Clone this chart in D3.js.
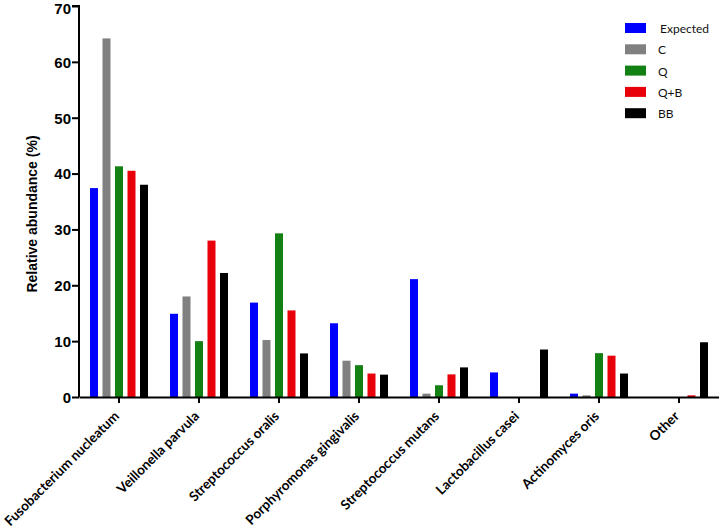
<!DOCTYPE html>
<html>
<head>
<meta charset="utf-8">
<script src="https://cdn.jsdelivr.net/npm/d3@7"></script>
<style>
  body { margin: 0; background: #fff; }
  svg { display: block; }
</style>
</head>
<body>
<div class="chart"></div>
<script>
"use strict";

// categories on the x axis
const categories = [
    "Fusobacterium nucleatum", "Veillonella parvula", "Streptococcus oralis",
    "Porphyromonas gingivalis", "Streptococcus mutans", "Lactobacillus casei",
    "Actinomyces oris", "Other"
];
const seriesNames = ["Expected", "C", "Q", "Q+B", "BB"];
const seriesColors = ["#0000ff", "#808080", "#138013", "#e8000b", "#000000"];

// relative abundance (%) per series, in category order
const expected = [37.4, 14.9, 16.9, 13.2, 21.1, 4.4, 0.6, 0];
const groupC   = [64.2, 18.0, 10.2, 6.5, 0.6, 0, 0.3, 0];
const groupQ   = [41.3, 10.0, 29.3, 5.7, 2.1, 0, 7.85, 0];
const groupQB  = [40.5, 28.0, 15.5, 4.2, 4.05, 0, 7.4, 0.3];
const groupBB  = [38.0, 22.2, 7.8, 4.0, 5.3, 8.5, 4.2, 9.8];
const yTicks = [0, 10, 20, 30, 40, 50, 60, 70];

const seriesValues = [expected, groupC, groupQ, groupQB, groupBB];

const width = 719, height = 530;
const margin = {top: 6, right: 0, bottom: 133, left: 79};
const plotH = height - margin.top - margin.bottom;

const svg = d3.select(".chart").append("svg")
    .attr("width", width)
    .attr("height", height);

const g = svg.append("g")
    .attr("transform", "translate(" + margin.left + "," + margin.top + ")");

const x0 = d3.scaleBand()
    .domain(categories)
    .range([0, width - margin.left - margin.right]);

const x1 = d3.scaleBand()
    .domain(seriesNames)
    .range([11, 69])
    .paddingInner(0.36);

const y = d3.scaleLinear()
    .domain([0, 70])
    .range([plotH, 0]);

const color = d3.scaleOrdinal().domain(seriesNames).range(seriesColors);

// bars
const rows = [];
categories.forEach((c, i) => {
    seriesNames.forEach((s, j) => {
        rows.push({cat: c, series: s, value: seriesValues[j][i]});
    });
});

g.selectAll("rect.bar")
    .data(rows.filter(d => d.value > 0))
    .enter().append("rect")
    .attr("class", "bar")
    .attr("x", d => x0(d.cat) + x1(d.series))
    .attr("width", x1.bandwidth())
    .attr("y", d => y(d.value))
    .attr("height", d => plotH - y(d.value))
    .style("fill", d => color(d.series));

// y axis
const yAxis = d3.axisLeft(y)
    .tickValues(yTicks)
    .tickSize(7)
    .tickPadding(1);

const yg = g.append("g").call(yAxis);
yg.select(".domain").attr("stroke-width", 2).attr("d", "M-7,0H0V" + plotH);
yg.selectAll(".tick line").attr("stroke-width", 2);
yg.selectAll(".tick text")
    .style("font", "bold 15px Arial, 'Liberation Sans', sans-serif")
    .attr("dy", "0.36em");
// top label sits against the page edge, nudge it down a little
yg.selectAll(".tick text")
    .filter(d => d === 70)
    .attr("y", 2.5);

// x axis
const xAxis = d3.axisBottom(x0).tickSize(6).tickSizeOuter(0);
const xg = g.append("g")
    .attr("transform", "translate(0," + plotH + ")")
    .call(xAxis);
xg.select(".domain").attr("stroke-width", 2);
xg.selectAll(".tick line").attr("stroke-width", 2);
xg.selectAll(".tick text")
    .style("font", "bold 13.5px Lato, 'Open Sans', sans-serif")
    .style("text-anchor", "end")
    .attr("x", 0)
    .attr("y", 0)
    .attr("dy", 0)
    .attr("transform", "translate(1,20) rotate(-45)");

// y label
svg.append("text")
    .attr("transform", "translate(37," + 214 + ") rotate(-90)")
    .style("text-anchor", "middle")
    .style("font", "bold 14px Arial, 'Liberation Sans', sans-serif")
    .text("Relative abundance (%)");

// legend
const legend = svg.append("g")
    .attr("transform", "translate(625,23)");

const item = legend.selectAll("g")
    .data(seriesNames)
    .enter().append("g")
    .attr("transform", (d, i) => "translate(0," + (i * 21.3) + ")");

item.append("rect")
    .attr("width", 21)
    .attr("height", 10)
    .style("fill", d => color(d));

item.append("text")
    .attr("x", (d, i) => i === 0 ? 35 : 33)
    .attr("y", 10)
    .style("font", "12px Lato, 'Open Sans', sans-serif")
    .style("fill", "#111")
    .text(d => d);
</script>
</body>
</html>
